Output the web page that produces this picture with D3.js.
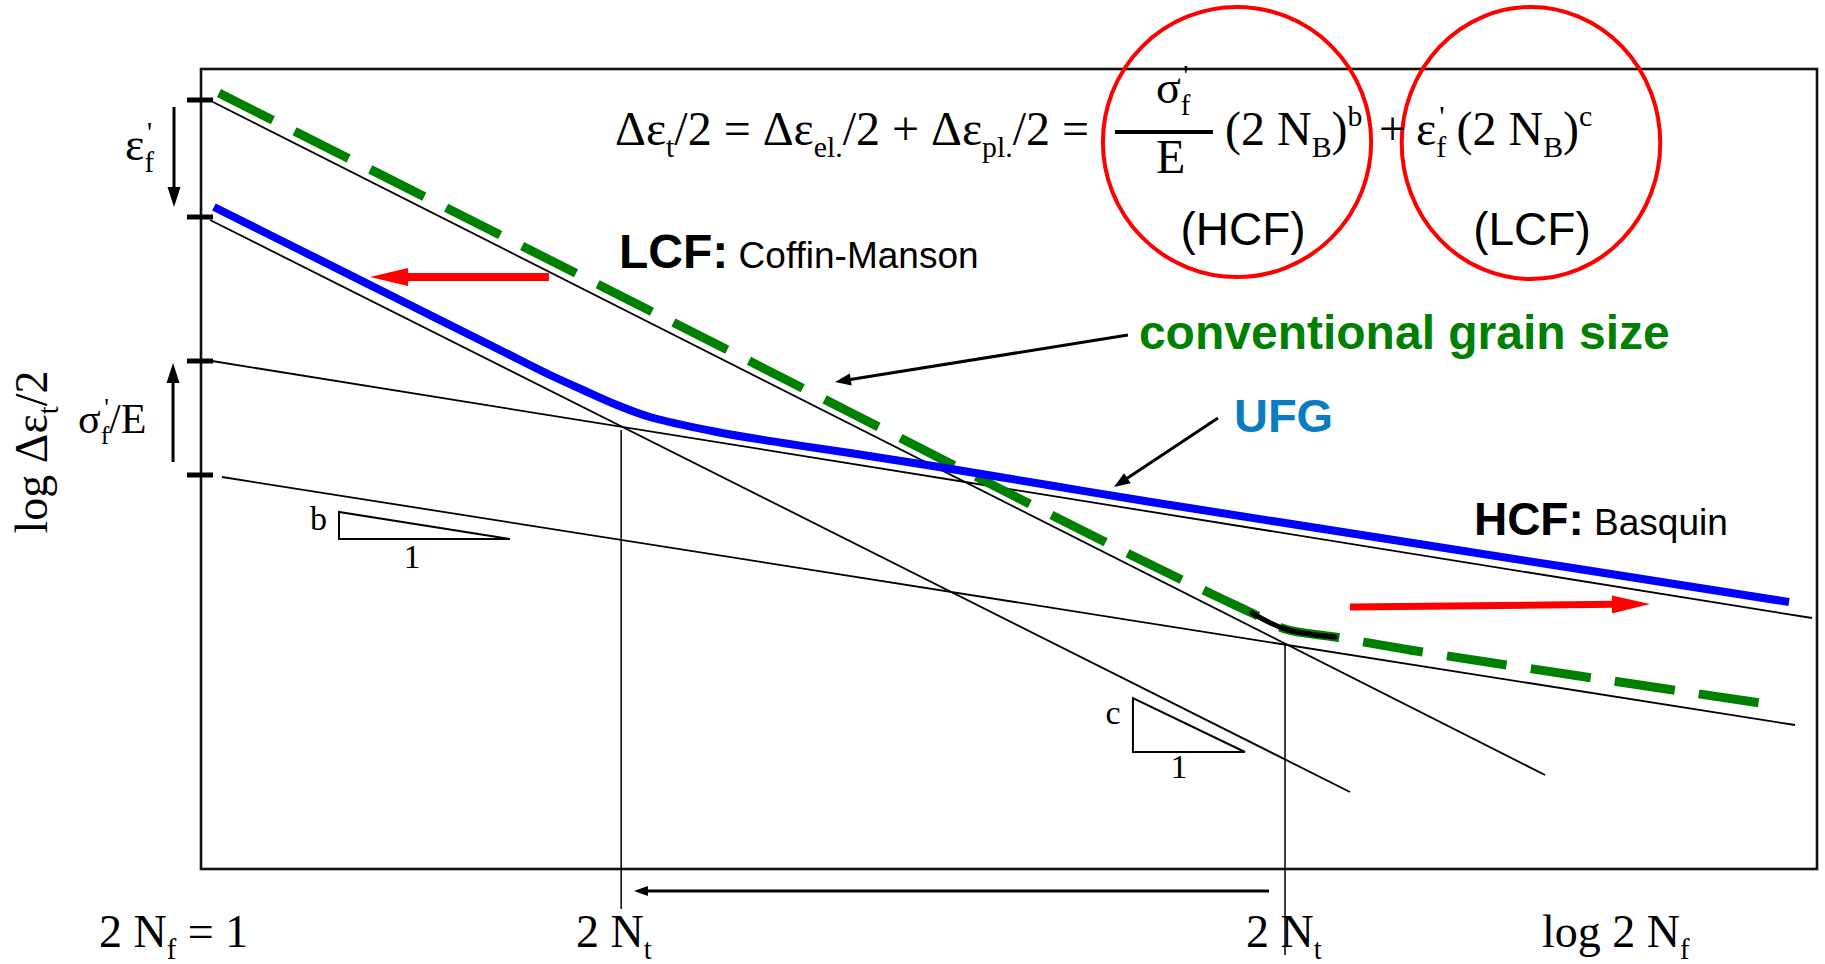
<!DOCTYPE html>
<html>
<head>
<meta charset="utf-8">
<script src="https://cdn.jsdelivr.net/npm/d3@7/dist/d3.min.js"></script>
<style>
  body { margin: 0; background: #fff; }
  svg { display: block; }
  .serif { font-family: 'Liberation Serif', 'Times New Roman', serif; }
  .sans { font-family: 'Liberation Sans', Arial, sans-serif; }
</style>
</head>
<body>
<script>
// Canvas settings
const width = 1825
const height = 964
const frame = { left: 201, top: 69, right: 1817, bottom: 869 }

// Colors
const red = '#ff0000'
const blue = '#0000ff'
const green = '#008000'
const ufgBlue = '#0a7dc2'

// Schematic units: x = log 2Nf, y = log strain amplitude
const xDomain = [0, 10]
const yDomain = [0, 8]

// Intercepts marked on the strain axis (eps_f' and sigma_f'/E of both materials)
const axisTicks = [7.69, 6.52, 5.08, 3.94]

// Coffin-Manson (LCF) and Basquin (HCF) straight lines, start and end point
const lcfConventional = [[0.074, 7.67], [8.317, 0.94]]
const lcfUfg = [[0.056, 6.49], [7.11, 0.77]]
const hcfUfg = [[0.068, 5.08], [9.969, 2.51]]
const hcfConventional = [[0.13, 3.92], [9.864, 1.44]]

// Total strain curves
const ufgCurve = [
  [0.080, 6.62], [0.613, 6.19], [1.231, 5.69], [1.850, 5.19], [2.160, 4.94],
  [2.364, 4.79], [2.574, 4.64], [2.778, 4.52], [3.193, 4.37], [3.601, 4.26],
  [4.016, 4.16], [4.530, 4.03], [5.241, 3.84], [5.879, 3.67], [7.420, 3.28],
  [9.827, 2.67]
]
const conventionalCurve = [
  [0.111, 7.76], [3.088, 5.33], [5.780, 3.12], [6.306, 2.71], [6.504, 2.56],
  [6.708, 2.40], [7.017, 2.32], [7.481, 2.19], [9.647, 1.66]
]
const transitionKnee = [[6.504, 2.56], [6.708, 2.40], [7.017, 2.32]]

// Transition lives 2Nt (UFG, conventional)
const transitionLives = [2.60, 6.708]
const transitionTops = [4.39, 2.24]
const transitionBottoms = [-0.40, -0.86]

// Slope triangles [top, corner, right]
const slopeB = [[0.854, 3.57], [0.854, 3.30], [1.912, 3.30]]
const slopeC = [[5.767, 1.71], [5.767, 1.17], [6.460, 1.17]]

// Red circles around the two terms [cx, cy, rx, ry]
const termCircles = [[6.411, 7.27, 0.83, 1.35], [8.230, 7.26, 0.80, 1.36]]

// Scales
const x = d3.scaleLinear().domain(xDomain).range([frame.left, frame.right])
const y = d3.scaleLinear().domain(yDomain).range([frame.bottom, frame.top])

const svg = d3.select('body').append('svg')
  .attr('width', width)
  .attr('height', height)

// Arrow as a line plus a filled head
function arrow(from, to, color, lineWidth, headLen, headWidth) {
  const p0 = [x(from[0]), y(from[1])]
  const p1 = [x(to[0]), y(to[1])]
  const len = Math.hypot(p1[0] - p0[0], p1[1] - p0[1])
  const ux = (p1[0] - p0[0]) / len
  const uy = (p1[1] - p0[1]) / len
  const bx = p1[0] - ux * headLen
  const by = p1[1] - uy * headLen
  svg.append('line')
    .attr('x1', p0[0]).attr('y1', p0[1])
    .attr('x2', bx + ux * 2).attr('y2', by + uy * 2)
    .attr('stroke', color)
    .attr('stroke-width', lineWidth)
  svg.append('path')
    .attr('d', `M${p1[0]},${p1[1]}L${bx - uy * headWidth / 2},${by + ux * headWidth / 2}L${bx + uy * headWidth / 2},${by - ux * headWidth / 2}Z`)
    .attr('fill', color)
}

// Text with sub- and superscripts
function rich(sel, parts, size) {
  let shift = 0
  parts.forEach(p => {
    const target = p.sub ? size * 0.25 : p.sup ? -size * 0.4 : 0
    const ts = sel.append('tspan').text(p.t)
      .attr('dy', target - shift)
    if (p.sub || p.sup) ts.attr('font-size', size * 0.62)
    if (p.dx) ts.attr('dx', p.dx)
    shift = target
  })
  return sel
}

function label(parts, pos, size, cls, opts = {}) {
  const t = svg.append('text')
    .attr('class', cls)
    .attr('x', x(pos[0]))
    .attr('y', y(pos[1]))
    .attr('font-size', size)
    .attr('fill', opts.fill || '#000')
    .attr('font-weight', opts.bold ? 'bold' : 'normal')
    .style('text-anchor', opts.anchor || 'start')
  return rich(t, parts, size)
}

const line = d3.line().x(d => x(d[0])).y(d => y(d[1]))
const smooth = d3.line().x(d => x(d[0])).y(d => y(d[1])).curve(d3.curveCatmullRom.alpha(0.5))

// Frame
svg.append('rect')
  .attr('x', frame.left)
  .attr('y', frame.top)
  .attr('width', frame.right - frame.left)
  .attr('height', frame.bottom - frame.top)
  .attr('fill', 'none')
  .attr('stroke', '#111')
  .attr('stroke-width', 2.6)

// Axis ticks
svg.selectAll('.tick')
  .data(axisTicks)
  .enter()
  .append('line')
  .attr('class', 'tick')
  .attr('x1', x(0) - 14)
  .attr('x2', x(0) + 12)
  .attr('y1', d => y(d))
  .attr('y2', d => y(d))
  .attr('stroke', '#000')
  .attr('stroke-width', 5)

// Straight lines
svg.selectAll('.asym')
  .data([lcfConventional, lcfUfg, hcfUfg, hcfConventional])
  .enter()
  .append('path')
  .attr('class', 'asym')
  .attr('d', line)
  .attr('fill', 'none')
  .attr('stroke', '#000')
  .attr('stroke-width', 1.8)

// Transition life drop lines
svg.selectAll('.drop')
  .data(transitionLives)
  .enter()
  .append('line')
  .attr('class', 'drop')
  .attr('x1', d => x(d))
  .attr('x2', d => x(d))
  .attr('y1', (d, i) => y(transitionTops[i]))
  .attr('y2', (d, i) => y(transitionBottoms[i]))
  .attr('stroke', '#000')
  .attr('stroke-width', 1.5)

// Slope triangles
svg.selectAll('.slope')
  .data([slopeB, slopeC])
  .enter()
  .append('path')
  .attr('class', 'slope')
  .attr('d', d => line(d) + 'Z')
  .attr('fill', 'none')
  .attr('stroke', '#000')
  .attr('stroke-width', 2)

// Conventional grain size curve, dashes fitted so it ends on a full dash
const convPath = svg.append('path')
  .attr('d', smooth(conventionalCurve))
  .attr('fill', 'none')
  .attr('stroke', green)
  .attr('stroke-width', 9)
const convLen = convPath.node().getTotalLength()
const dashCount = Math.round((convLen - 62) / 87)
const dashScale = (convLen - 62) / (dashCount * 87)
convPath.attr('stroke-dasharray', `${62 * dashScale} ${25 * dashScale}`)

svg.append('path')
  .attr('d', smooth(transitionKnee))
  .attr('fill', 'none')
  .attr('stroke', '#000')
  .attr('stroke-width', 5)
  .attr('stroke-linecap', 'round')

// UFG curve
svg.append('path')
  .attr('d', smooth(ufgCurve))
  .attr('fill', 'none')
  .attr('stroke', blue)
  .attr('stroke-width', 8)

// Red circles
svg.selectAll('.term')
  .data(termCircles)
  .enter()
  .append('ellipse')
  .attr('class', 'term')
  .attr('cx', d => x(d[0]))
  .attr('cy', d => y(d[1]))
  .attr('rx', d => x(d[2]) - x(0))
  .attr('ry', d => y(0) - y(d[3]))
  .attr('fill', 'none')
  .attr('stroke', red)
  .attr('stroke-width', 4)

// Arrows
arrow([2.153, 5.92], [1.046, 5.92], red, 8, 38, 18)
arrow([7.110, 2.62], [8.966, 2.65], red, 7, 38, 18)
arrow([5.736, 5.34], [3.923, 4.87], '#000', 3, 16, 12)
arrow([6.293, 4.51], [5.650, 3.82], '#000', 3, 16, 12)
arrow([6.609, -0.22], [2.679, -0.22], '#000', 3, 14, 10)
arrow([-0.167, 7.62], [-0.167, 6.62], '#000', 3, 20, 13)
arrow([-0.173, 4.07], [-0.173, 5.06], '#000', 3, 20, 13)

// Formula
label([{ t: 'Δε' }, { t: 't', sub: true }, { t: '/2 = Δε' }, { t: 'el.', sub: true },
  { t: '/2 + Δε' }, { t: 'pl.', sub: true }, { t: '/2 =' }], [2.562, 7.24], 48, 'serif')
label([{ t: 'σ' }, { t: 'f', sub: true }, { t: '\'', sup: true, dx: -7 }], [5.910, 7.66], 46, 'serif')
svg.append('line')
  .attr('x1', x(5.656)).attr('x2', x(6.262))
  .attr('y1', y(7.37)).attr('y2', y(7.37))
  .attr('stroke', '#000').attr('stroke-width', 4)
label([{ t: 'E' }], [5.910, 6.96], 48, 'serif')
label([{ t: '(2 N' }, { t: 'B', sub: true }, { t: ')' }, { t: 'b', sup: true }], [6.337, 7.24], 48, 'serif')
label([{ t: '+' }], [7.290, 7.24], 48, 'serif')
label([{ t: 'ε' }, { t: 'f', sub: true }, { t: '\'', sup: true, dx: -7 }, { t: ' (2 N' },
  { t: 'B', sub: true }, { t: ')' }, { t: 'c', sup: true }], [7.519, 7.24], 48, 'serif')
label([{ t: '(HCF)' }], [6.448, 6.24], 46, 'sans', { anchor: 'middle' })
label([{ t: '(LCF)' }], [8.236, 6.24], 46, 'sans', { anchor: 'middle' })

// Regime labels
const lcf = label([{ t: 'LCF:' }], [2.587, 6.01], 48, 'sans', { bold: true })
lcf.append('tspan').text(' Coffin-Manson').attr('font-size', 37).attr('font-weight', 'normal')
const hcf = label([{ t: 'HCF:' }], [7.877, 3.34], 46, 'sans', { bold: true })
hcf.append('tspan').text(' Basquin').attr('font-size', 37).attr('font-weight', 'normal')
label([{ t: 'conventional grain size' }], [5.804, 5.20], 48, 'sans', { bold: true, fill: green })
label([{ t: 'UFG' }], [6.392, 4.37], 47, 'sans', { bold: true, fill: ufgBlue })

// Axis labels
label([{ t: 'ε' }, { t: 'f', sub: true }, { t: '\'', sup: true, dx: -7 }], [-0.470, 7.09], 46, 'serif')
label([{ t: 'σ' }, { t: 'f', sub: true }, { t: '\'', sup: true, dx: -5 }, { t: '/E' }], [-0.761, 4.36], 42, 'serif')
const yTitle = svg.append('text')
  .attr('class', 'serif')
  .attr('font-size', 46)
  .attr('transform', `translate(${x(-0.953)},${y(4.17)}) rotate(-90)`)
  .style('text-anchor', 'middle')
rich(yTitle, [{ t: 'log Δε' }, { t: 't', sub: true }, { t: '/2' }], 46)

// Slope labels
label([{ t: 'b' }], [0.780, 3.39], 34, 'serif', { anchor: 'end' })
label([{ t: '1' }], [1.306, 3.01], 34, 'serif', { anchor: 'middle' })
label([{ t: 'c' }], [5.644, 1.45], 34, 'serif', { anchor: 'middle' })
label([{ t: '1' }], [6.052, 0.91], 34, 'serif', { anchor: 'middle' })

// Life axis labels
label([{ t: '2 N' }, { t: 'f', sub: true }, { t: ' = 1' }], [-0.631, -0.78], 46, 'serif')
label([{ t: '2 N' }, { t: 't', sub: true }], [2.321, -0.78], 46, 'serif')
label([{ t: '2 N' }, { t: 't', sub: true }], [6.467, -0.78], 46, 'serif')
label([{ t: 'log 2 N' }, { t: 'f', sub: true }], [8.298, -0.78], 46, 'serif')
</script>
</body>
</html>
